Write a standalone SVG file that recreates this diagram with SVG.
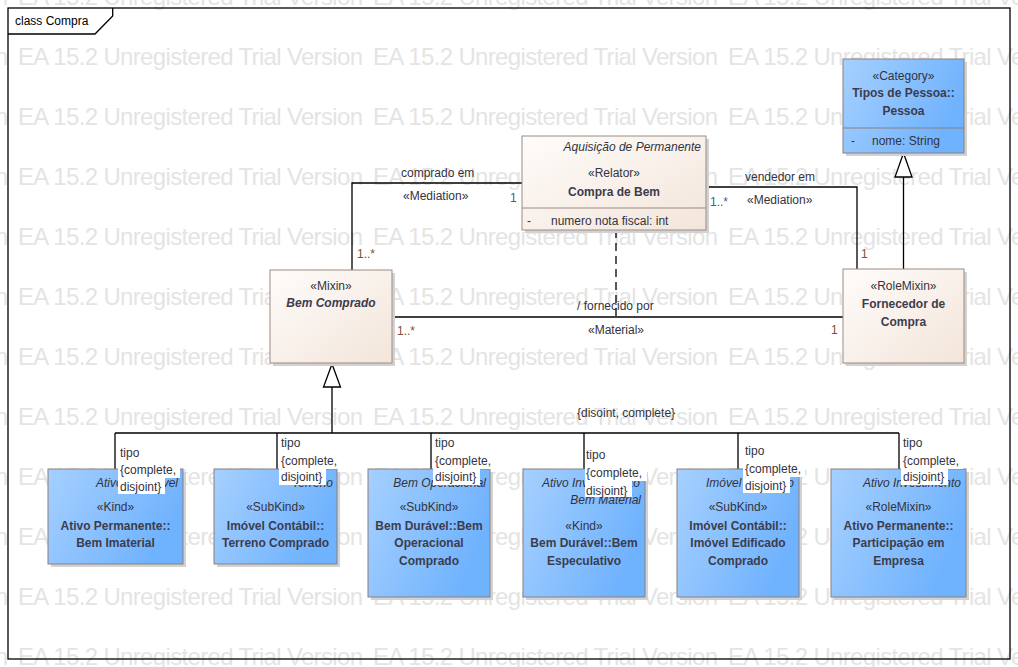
<svg xmlns="http://www.w3.org/2000/svg" xmlns:xlink="http://www.w3.org/1999/xlink" width="1018" height="667" viewBox="0 0 1018 667">
<style>
text{font-family:"Liberation Sans",Arial,sans-serif;font-size:12px;fill:#333340}
.wm{font-size:24px;fill:#e4e4e4}
.c{text-anchor:middle}
.r{text-anchor:end}
.b{font-weight:bold;fill:#3c3c4c}
.i{font-style:italic}
.mb{fill:#3a5f8a}
.mr{fill:#7a5030}
.beige{fill:url(#gBeige);stroke:#9c8b83;stroke-width:1}
.blue{fill:url(#gBlue);stroke:#8c7f7f;stroke-width:1}
.sh{fill:#d2d2d2}
.ln{fill:none;stroke:#000;stroke-width:1.3}
.tri{fill:#fff;stroke:#000;stroke-width:1.3}
.bg{fill:#fff}
</style>
<defs>
<linearGradient id="gBeige" x1="0" y1="0" x2="1" y2="1">
<stop offset="0" stop-color="#fefcfa"/>
<stop offset="1" stop-color="#f3e5da"/>
</linearGradient>
<linearGradient id="gBlue" x1="0" y1="0" x2="1" y2="0.4">
<stop offset="0" stop-color="#a6d0ff"/>
<stop offset="1" stop-color="#6fb2fd"/>
</linearGradient>
<g id="wm">
<text class="wm" x="-337" y="0" textLength="345">EA 15.2 Unregistered Trial Version</text>
<text class="wm" x="18" y="0" textLength="345">EA 15.2 Unregistered Trial Version</text>
<text class="wm" x="373" y="0" textLength="345">EA 15.2 Unregistered Trial Version</text>
<text class="wm" x="728" y="0" textLength="345">EA 15.2 Unregistered Trial Version</text>
</g>
</defs>
<rect x="0" y="0" width="1018" height="667" fill="#fff"/>
<g id="watermark">
<use xlink:href="#wm" y="5"/>
<use xlink:href="#wm" y="65"/>
<use xlink:href="#wm" y="125"/>
<use xlink:href="#wm" y="185"/>
<use xlink:href="#wm" y="245"/>
<use xlink:href="#wm" y="305"/>
<use xlink:href="#wm" y="365"/>
<use xlink:href="#wm" y="425"/>
<use xlink:href="#wm" y="485"/>
<use xlink:href="#wm" y="545"/>
<use xlink:href="#wm" y="605"/>
<use xlink:href="#wm" y="665"/>
</g>
<g id="frame">
<rect x="8" y="8" width="1002" height="651" fill="none" stroke="#000" stroke-width="1.3"/>
<path d="M8,34 H95 L112.7,16 V8" fill="none" stroke="#000" stroke-width="1.3"/>
<text x="15" y="25" style="fill:#000">class Compra</text>
</g>
<g id="connectors">
<path class="ln" d="M522,183 H352 V270"/>
<path class="ln" d="M706,187 H857 V269"/>
<path class="ln" d="M392,317 H843"/>
<path class="ln" d="M616,230 V317" stroke-dasharray="8 5"/>
<path class="ln" d="M903.5,269 V177"/>
<polygon class="tri" points="903.5,153 895,177 912,177"/>
<path class="ln" d="M332,387 V433 M115,433 H899 M115,433 V469 M277,433 V469 M431,433 V469 M584,433 V469 M738,433 V469 M899,433 V469"/>
<polygon class="tri" points="332,364 323.5,387 340.5,387"/>
<text x="401" y="177">comprado em</text>
<text x="403" y="200">«Mediation»</text>
<text class="mb" x="510" y="202">1</text>
<text class="mr" x="357" y="258">1..*</text>
<text x="745" y="181">vendedor em</text>
<text x="747" y="204">«Mediation»</text>
<text class="mb" x="710" y="206">1..*</text>
<text class="mr" x="861" y="258">1</text>
<text x="577" y="310">/ fornecido por</text>
<text x="588" y="334">«Material»</text>
<text class="mr" x="397" y="335">1..*</text>
<text class="mr" x="831" y="334">1</text>
<text x="577" y="417">{disoint, complete}</text>
</g>
<g id="pessoa">
<rect class="sh" x="846" y="62" width="121" height="94"/>
<rect class="blue" x="843" y="59" width="121" height="94"/>
<line x1="843" y1="128" x2="964" y2="128" stroke="#8c7f7f"/>
<text class="c" x="903.5" y="80">«Category»</text>
<text class="c b" x="903.5" y="97">Tipos de Pessoa::</text>
<text class="c b" x="903.5" y="115">Pessoa</text>
<text x="851" y="145">-</text>
<text x="872" y="145">nome: String</text>
</g>
<g id="fornecedor">
<rect class="sh" x="846" y="272" width="121" height="94"/>
<rect class="beige" x="843" y="269" width="121" height="94"/>
<text class="c" x="903.5" y="290">«RoleMixin»</text>
<text class="c b" x="903.5" y="308">Fornecedor de</text>
<text class="c b" x="903.5" y="326">Compra</text>
</g>
<g id="compra">
<rect class="sh" x="525" y="139" width="184" height="94"/>
<rect class="beige" x="522" y="136" width="184" height="94"/>
<line x1="522" y1="208" x2="706" y2="208" stroke="#9c8b83"/>
<text class="r i" x="701" y="151">Aquisição de Permanente</text>
<text class="c" x="614" y="177">«Relator»</text>
<text class="c b" x="614" y="196">Compra de Bem</text>
<text x="527" y="225">-</text>
<text x="551" y="225">numero nota fiscal: int</text>
</g>
<g id="bemComprado">
<rect class="sh" x="273" y="273" width="122" height="93"/>
<rect class="beige" x="270" y="270" width="122" height="93"/>
<text class="c" x="331" y="290">«Mixin»</text>
<text class="c b i" x="331" y="307">Bem Comprado</text>
</g>
<g id="bemImaterial">
<rect class="sh" x="51" y="472" width="135" height="95"/>
<rect class="blue" x="48" y="469" width="135" height="95"/>
<text class="r i" x="178" y="487">Ativo Intangível</text>
<text class="c" x="115.5" y="511">«Kind»</text>
<text class="c b" x="115.5" y="530">Ativo Permanente::</text>
<text class="c b" x="115.5" y="547">Bem Imaterial</text>
</g>
<g id="terreno">
<rect class="sh" x="217" y="472" width="123" height="95"/>
<rect class="blue" x="214" y="469" width="123" height="95"/>
<text class="r i" x="333" y="487">Terreno</text>
<text class="c" x="275.5" y="511">«SubKind»</text>
<text class="c b" x="275.5" y="530">Imóvel Contábil::</text>
<text class="c b" x="275.5" y="547">Terreno Comprado</text>
</g>
<g id="bemOperacional">
<rect class="sh" x="371" y="472" width="122" height="128"/>
<rect class="blue" x="368" y="469" width="122" height="128"/>
<text class="r i" x="486" y="487">Bem Operacional</text>
<text class="c" x="429" y="511">«SubKind»</text>
<text class="c b" x="429" y="530">Bem Durável::Bem</text>
<text class="c b" x="429" y="547">Operacional</text>
<text class="c b" x="429" y="565">Comprado</text>
</g>
<g id="bemEspeculativo">
<rect class="sh" x="526" y="472" width="122" height="128"/>
<rect class="blue" x="523" y="469" width="122" height="128"/>
<text class="r i" x="640" y="487">Ativo Investimento</text>
<text class="r i" x="641" y="504">Bem Material</text>
<text class="c" x="584" y="530">«Kind»</text>
<text class="c b" x="584" y="547">Bem Durável::Bem</text>
<text class="c b" x="584" y="565">Especulativo</text>
</g>
<g id="imovelEdificado">
<rect class="sh" x="680" y="472" width="122" height="128"/>
<rect class="blue" x="677" y="469" width="122" height="128"/>
<text class="r i" x="794" y="487">Imóvel Edificado</text>
<text class="c" x="738" y="511">«SubKind»</text>
<text class="c b" x="738" y="530">Imóvel Contábil::</text>
<text class="c b" x="738" y="547">Imóvel Edificado</text>
<text class="c b" x="738" y="565">Comprado</text>
</g>
<g id="participacao">
<rect class="sh" x="834" y="472" width="135" height="128"/>
<rect class="blue" x="831" y="469" width="135" height="128"/>
<text class="r i" x="961" y="487">Ativo Investimento</text>
<text class="c" x="898.5" y="511">«RoleMixin»</text>
<text class="c b" x="898.5" y="530">Ativo Permanente::</text>
<text class="c b" x="898.5" y="547">Participação em</text>
<text class="c b" x="898.5" y="565">Empresa</text>
</g>
<g id="genLabels">
<rect class="bg" x="118" y="462" width="62" height="16"/>
<rect class="bg" x="118" y="478" width="47" height="16"/>
<text x="120" y="457">tipo</text><text x="120" y="474">{complete,</text><text x="120" y="491">disjoint}</text>
<rect class="bg" x="279" y="453" width="62" height="16"/>
<rect class="bg" x="279" y="469" width="47" height="16"/>
<text x="281" y="447">tipo</text><text x="281" y="465">{complete,</text><text x="281" y="481">disjoint}</text>
<rect class="bg" x="433" y="453" width="62" height="16"/>
<rect class="bg" x="433" y="469" width="47" height="16"/>
<text x="435" y="447">tipo</text><text x="435" y="465">{complete,</text><text x="435" y="481">disjoint}</text>
<rect class="bg" x="585" y="465" width="62" height="16"/>
<rect class="bg" x="585" y="481" width="47" height="16"/>
<text x="586" y="459">tipo</text><text x="586" y="477">{complete,</text><text x="586" y="495">disjoint}</text>
<rect class="bg" x="743" y="461" width="62" height="16"/>
<rect class="bg" x="743" y="477" width="47" height="16"/>
<text x="745" y="455">tipo</text><text x="745" y="473">{complete,</text><text x="745" y="490">disjoint}</text>
<rect class="bg" x="901" y="453" width="62" height="16"/>
<rect class="bg" x="901" y="469" width="47" height="16"/>
<text x="903" y="447">tipo</text><text x="903" y="465">{complete,</text><text x="903" y="481">disjoint}</text>
</g>
</svg>
